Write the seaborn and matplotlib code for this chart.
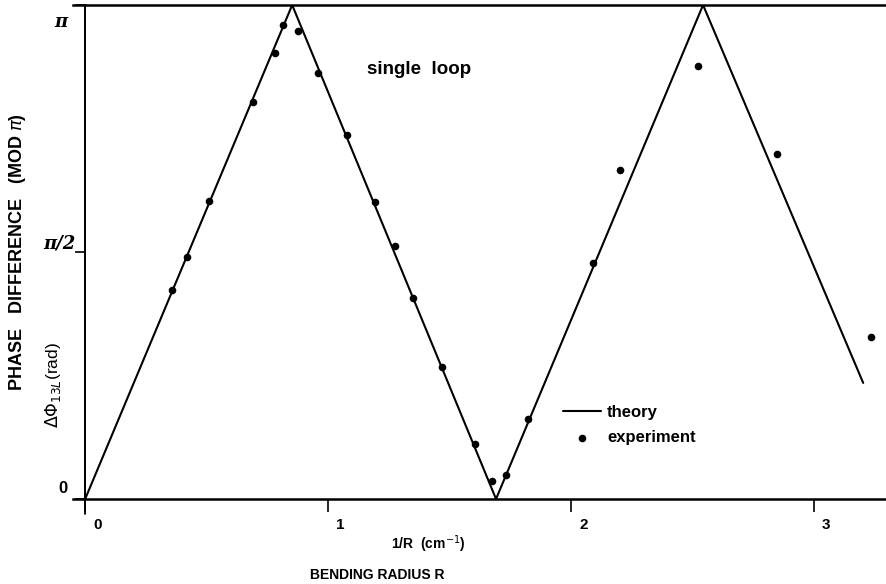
import numpy as np
import pandas as pd
import matplotlib
matplotlib.use("Agg")
import matplotlib.pyplot as plt
import matplotlib.transforms as mtransforms
import seaborn as sns

# theory: triangle wave vertices (1/R in cm^-1, phase in units of pi)
theory_x = [0.0, 0.852, 1.691, 2.543, 3.202]
theory_y = [0.0, 1.0, 0.0, 1.0, 0.235]

# experiment points (phase in units of pi)
exp_x = [0.358, 0.418, 0.510, 0.689, 0.782, 0.815, 0.877, 0.957, 1.076, 1.193, 1.276,
         1.350, 1.469, 1.605, 1.675, 1.733, 1.823, 2.091, 2.202, 2.523, 2.848, 3.235]
exp_y = [0.423, 0.490, 0.603, 0.804, 0.903, 0.960, 0.947, 0.862, 0.737, 0.601, 0.512,
         0.407, 0.267, 0.111, 0.036, 0.049, 0.162, 0.478, 0.666, 0.877, 0.698, 0.328]

x_ticks = [0, 1, 2, 3]
x_tick_labels = ["0", "1", "2", "3"]
y_ticks = [0.0, 0.5, 1.0]
y_tick_labels = ["0", "π/2", "π"]

df_t = pd.DataFrame({"x": theory_x, "y": np.array(theory_y) * np.pi})
df_e = pd.DataFrame({"x": exp_x, "y": np.array(exp_y) * np.pi})

sns.set_theme(style="white")
plt.rcParams["font.family"] = ["Liberation Sans", "DejaVu Sans"]
plt.rcParams["text.color"] = "black"
plt.rcParams["xtick.color"] = "black"
plt.rcParams["ytick.color"] = "black"

W, H = 887, 584
fig = plt.figure(figsize=(W / 100, H / 100), dpi=100)
ax = fig.add_axes([73 / W, 1 - 499 / H, 1 - 73 / W, 494 / H])

sns.lineplot(data=df_t, x="x", y="y", color="black", lw=1.5, sort=False,
             estimator=None, label="theory", ax=ax)
sns.scatterplot(data=df_e, x="x", y="y", color="black", s=30, edgecolor="black",
                linewidth=0, label="experiment", ax=ax)

ax.set_xlim(-0.05, 3.30)
ax.set_ylim(0, np.pi)

for side in ["top", "bottom"]:
    ax.spines[side].set_linewidth(1.8)
    ax.spines[side].set_color("black")
ax.spines["right"].set_visible(False)
ax.spines["left"].set_position(("data", 0))
ax.spines["left"].set_linewidth(1.3)
ax.spines["left"].set_color("black")
ax.axvline(0, ymin=-0.03, ymax=1, color="black", lw=1.3, clip_on=False)

ax.set_xticks(x_ticks)
ax.set_xticklabels(x_tick_labels, fontsize=11, fontweight="bold")
ax.set_yticks(np.array(y_ticks) * np.pi)
ax.set_yticklabels(y_tick_labels, fontsize=13, fontweight="bold",
                   family="DejaVu Serif", style="italic")
ax.tick_params(axis="x", bottom=True, direction="out", length=9, width=1.2, pad=2, colors="black")
ax.tick_params(axis="y", left=True, direction="out", length=7, width=1.2, pad=0, colors="black")
ax.set_xlabel("")
ax.set_ylabel("")

# the "0" on the y axis is upright sans like the x numbers
zero_lab = ax.get_yticklabels()[0]
zero_lab.set_family(["Liberation Sans", "DejaVu Sans"])
zero_lab.set_style("normal")
zero_lab.set_fontsize(12)


def shift(label, dx, dy):
    off = mtransforms.ScaledTranslation(dx / 100, dy / 100, fig.dpi_scale_trans)
    label.set_transform(label.get_transform() + off)


for lab in ax.get_xticklabels():
    lab.set_horizontalalignment("left")
    shift(lab, 8, -4)
y_offsets = [(-8, 12), (0, 10), (-8, -15)]
for lab, (dx, dy) in zip(ax.get_yticklabels(), y_offsets):
    shift(lab, dx, dy)

ax.legend(loc="upper left", bbox_to_anchor=(563 / W, 1 - 405 / H),
          bbox_transform=fig.transFigure, frameon=False, handlelength=2.3,
          handletextpad=0.35, borderpad=0, borderaxespad=0, labelspacing=0.6,
          prop={"size": 12, "weight": "bold"})

fig.text(367 / W, 1 - 70 / H, "single  loop", fontsize=13.5, fontweight="bold",
         va="center", ha="left")
fig.text(18 / W, 1 - 252 / H, "PHASE   DIFFERENCE   (MOD $\\pi$)", rotation=90,
         fontsize=13, fontweight="bold", va="center", ha="center")
fig.text(53 / W, 1 - 385 / H, "$\\Delta\\Phi_{13L}$(rad)", rotation=90,
         fontsize=12.5, va="center", ha="center")
fig.text(428 / W, 1 - 544 / H, "1/R  (cm$^{-1}$)", fontsize=10, fontweight="bold",
         va="center", ha="center")
fig.text(310 / W, 1 - 575 / H, "BENDING RADIUS R", fontsize=10, fontweight="bold",
         va="center", ha="left")

fig.savefig("out.png", dpi=100)
